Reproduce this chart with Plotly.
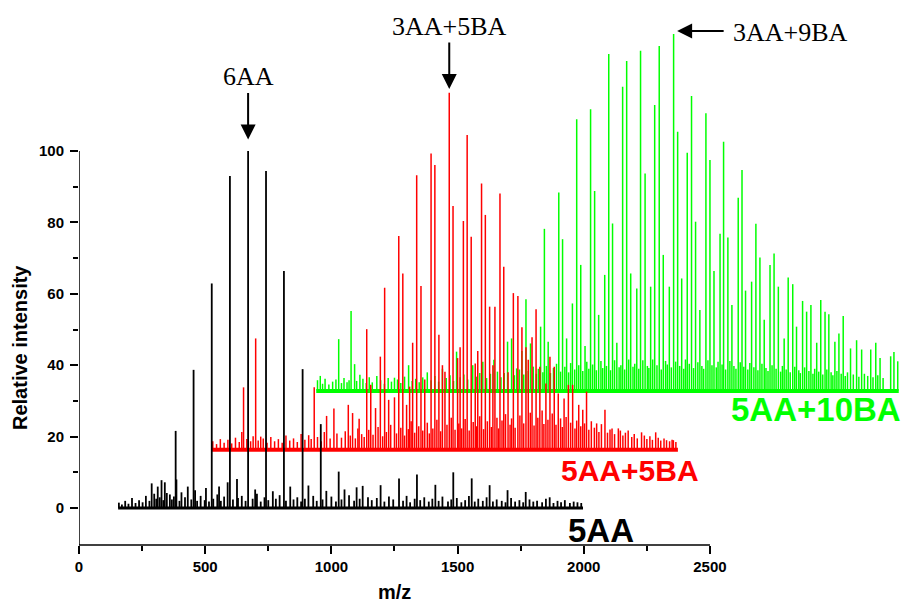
import plotly.graph_objects as go

# ---------------- data ----------------
# 5AA (black) : main peaks (m/z, intensity above baseline)
black_mz = [383, 454, 526, 598, 670, 741, 812, 886, 958, 1029, 1100, 1124, 1195, 1268,
            1339, 1412, 1483, 1556, 1627, 1698, 1770, 1865,
            288, 312, 327, 340, 360, 386, 431, 460, 503, 555, 589, 626, 698, 768, 837,
            909, 980, 1052]
black_int = [21.6, 38.7, 62.9, 93.0, 100.0, 94.4, 66.4, 38.9, 23.5, 10.2, 5.8, 6.2, 6.4, 8.3,
             9.4, 6.5, 10.0, 8.3, 6.4, 5.0, 4.5, 3.0,
             6.9, 6.0, 7.8, 7.2, 3.8, 8.0, 6.0, 5.0, 5.6, 6.0, 7.2, 8.1, 5.2, 4.7, 6.0,
             6.3, 4.8, 5.2]
black_noise_mz = [158, 170, 183, 196, 210, 224, 238, 252, 265, 279, 298, 306, 320, 334, 348,
                  368, 376, 398, 406, 420, 445, 468, 482, 498, 515, 532, 548, 562, 575, 610,
                  630, 645, 660, 688, 705, 720, 735, 750, 780, 795, 820, 850, 865, 880, 895,
                  928, 942, 965, 1000, 1018, 1040, 1070, 1090, 1112, 1145, 1160, 1180, 1210,
                  1228, 1245, 1284, 1298, 1312, 1330, 1352, 1368, 1386, 1400, 1425, 1440, 1462,
                  1475, 1497, 1515, 1530, 1545, 1568, 1582, 1600, 1615, 1640, 1655, 1675,
                  1690, 1712, 1728, 1745, 1760, 1785, 1800, 1815, 1835, 1850, 1880, 1896,
                  1910, 1925, 1945, 1960, 1975, 1990]
black_noise_int = [1.5, 1.0, 2.0, 1.2, 2.8, 1.4, 2.2, 1.6, 3.4, 2.0, 4.0, 2.6, 3.0, 2.2, 4.2,
                   2.4, 3.2, 2.0, 4.4, 3.0, 2.4, 2.0, 3.4, 2.2, 1.8, 2.6, 3.8, 2.0, 3.2, 2.4,
                   2.8, 3.4, 2.0, 2.6, 4.0, 1.8, 3.0, 2.2, 2.6, 3.6, 2.0, 2.4, 3.0, 1.8, 2.6,
                   3.4, 2.0, 2.4, 3.2, 1.8, 2.4, 3.6, 2.0, 2.6, 3.0, 2.2, 2.8, 1.8, 3.2, 2.4,
                   2.0, 3.4, 1.6, 2.6, 2.2, 3.0, 1.8, 2.6, 2.0, 3.2, 1.8, 2.4, 2.8, 1.6, 2.2,
                   3.4, 1.8, 2.6, 2.0, 3.0, 1.8, 2.4, 2.0, 1.6, 2.8, 1.8, 2.2, 1.6, 2.4, 1.8,
                   2.0, 1.6, 2.6, 1.4, 2.0, 1.6, 2.2, 1.4, 1.8, 1.6, 1.4]
black_span = [155, 1997]
black_offset = 0.0

# 5AA+5BA (red)
red_mz = [645, 652, 700, 720, 910, 932, 981, 1010, 1067, 1084, 1110, 1140, 1156, 1175, 1194,
          1211, 1227, 1250, 1267, 1283, 1298, 1310, 1322, 1338, 1355, 1370, 1395, 1410,
          1426, 1440, 1450, 1467, 1482, 1500, 1510, 1523, 1538, 1554, 1570, 1580, 1595,
          1610, 1627, 1640, 1648, 1668, 1683, 1700, 1721, 1739, 1755, 1771, 1780, 1795,
          1811, 1826, 1850, 1866, 1883, 1899, 1922, 1939, 1956, 1980, 1996, 2011, 2051,
          2084, 2104, 2137, 2176, 2229, 2285, 2328, 2355]
red_int = [5.0, 17.5, 31.2, 3.7, 4.1, 17.5, 9.5, 11.6, 12.6, 10.3, 8.7, 33.8, 18.2, 11.7, 26.1,
           45.4, 14.0, 14.7, 59.9, 49.4, 12.6, 17.7, 30.0, 76.9, 45.9, 19.7, 83.0, 79.8,
           32.2, 23.7, 21.9, 100.0, 68.3, 25.7, 28.7, 64.1, 88.2, 59.7, 24.2, 27.7, 74.6,
           65.8, 40.1, 23.7, 40.1, 71.8, 51.3, 21.7, 43.9, 43.1, 34.3, 28.7, 25.2, 31.5,
           39.4, 23.3, 18.6, 26.1, 23.3, 15.8, 14.4, 18.2, 18.2, 12.6, 11.2, 16.3, 7.4,
           11.2, 5.7, 6.0, 5.4, 4.9, 4.9, 2.7, 2.7]
red_noise_mz = [530, 545, 560, 575, 590, 605, 620, 635, 665, 680, 690, 710, 730, 745, 760,
                775, 790, 805, 820, 835, 850, 865, 880, 895, 920, 945, 960, 972, 995, 1022,
                1040, 1055, 1075, 1095, 1105, 1120, 1130, 1148, 1165, 1185, 1203, 1218,
                1235, 1258, 1275, 1290, 1305, 1316, 1330, 1346, 1362, 1380, 1388, 1402,
                1418, 1433, 1458, 1475, 1490, 1505, 1516, 1530, 1546, 1562, 1576, 1588,
                1603, 1618, 1634, 1656, 1662, 1676, 1690, 1708, 1714, 1728, 1747, 1762,
                1788, 1803, 1818, 1835, 1842, 1858, 1875, 1890, 1908, 1915, 1930, 1948,
                1965, 1972, 1988, 2003, 2020, 2030, 2042, 2060, 2070, 2094, 2112, 2122,
                2145, 2155, 2165, 2190, 2200, 2212, 2240, 2250, 2262, 2272, 2295, 2305,
                2318, 2340, 2350, 2365]
red_noise_int = [2.4, 1.6, 3.0, 2.0, 2.8, 1.8, 3.4, 2.2, 3.0, 2.4, 3.8, 2.6, 3.2, 2.0, 3.6,
                 2.4, 3.0, 2.0, 4.0, 2.6, 3.2, 2.2, 4.4, 2.8, 3.0, 3.6, 2.4, 5.0, 3.2, 4.6,
                 3.4, 5.2, 4.0, 3.2, 6.0, 4.4, 3.6, 5.6, 4.2, 6.4, 3.8, 5.0, 7.0, 4.6, 6.2,
                 4.0, 5.8, 8.0, 4.8, 6.6, 5.4, 7.6, 4.6, 6.0, 8.4, 5.2, 7.0, 9.0, 5.6, 7.4,
                 6.0, 8.6, 5.4, 7.8, 6.6, 9.4, 5.8, 8.0, 6.4, 9.0, 6.0, 8.2, 10.0, 7.0, 8.8,
                 6.2, 9.6, 7.4, 10.4, 6.8, 9.0, 11.0, 7.2, 8.4, 10.2, 7.0, 8.8, 6.4, 9.2,
                 7.6, 6.0, 8.2, 6.6, 7.4, 5.6, 8.0, 6.2, 5.0, 7.2, 4.8, 6.0, 4.4, 5.4, 4.0,
                 4.8, 3.6, 4.4, 3.2, 4.0, 3.0, 3.8, 2.8, 3.4, 2.6, 3.2, 2.4, 2.8, 2.2]
red_span = [527, 2373]
red_offset = 16.3

# 5AA+10BA (green)
green_mz = [956, 1029, 1078, 1092, 1113, 1180, 1250, 1306, 1380, 1440, 1496, 1560, 1600,
            1644, 1698, 1714, 1734, 1755, 1771, 1789, 1829, 1844, 1859, 1901, 1916, 1932,
            1955, 1972, 1988, 2005, 2027, 2043, 2059, 2083, 2099, 2114, 2131, 2154, 2170,
            2186, 2210, 2225, 2243, 2265, 2281, 2299, 2315, 2339, 2356, 2372, 2388, 2410,
            2427, 2443, 2460, 2484, 2500, 2516, 2540, 2554, 2571, 2587, 2612, 2627, 2641,
            2665, 2682, 2698, 2715, 2738, 2754, 2771, 2794, 2810, 2828, 2843, 2867, 2883,
            2900, 2923, 2939, 2956, 2971, 2995, 3011, 3028, 3057, 3081, 3101, 3137, 3157,
            3174, 3216, 3229, 3244]
green_int = [4.2, 14.5, 22.4, 7.5, 4.5, 4.2, 3.7, 7.2, 5.2, 6.2, 11.0, 7.2, 8.2, 8.7, 13.8,
             14.7, 6.3, 11.2, 25.7, 13.3, 18.0, 45.4, 13.8, 55.6, 42.5, 14.7, 24.5, 76.1,
             35.3, 12.6, 78.9, 56.0, 21.3, 32.5, 94.4, 46.9, 13.5, 85.2, 92.4, 32.9, 28.7,
             95.3, 60.9, 29.2, 80.1, 96.6, 38.1, 29.2, 100.0, 72.6, 31.5, 66.7, 82.6, 47.4,
             22.7, 77.8, 64.7, 33.6, 44.0, 69.8, 43.0, 24.1, 54.1, 61.9, 28.1, 30.6, 46.8,
             37.4, 19.9, 35.3, 38.5, 29.2, 14.7, 31.8, 29.9, 18.0, 25.2, 22.2, 24.1, 13.5,
             25.5, 22.2, 21.5, 13.8, 16.1, 21.0, 11.9, 14.2, 11.6, 11.6, 13.5, 9.2, 9.7,
             10.9, 8.3]
green_noise_mz = [945, 965, 975, 990, 1005, 1018, 1040, 1050, 1062, 1070, 1100, 1125, 1138,
                  1150, 1162, 1195, 1210, 1225, 1238, 1262, 1275, 1290, 1320, 1334, 1348,
                  1362, 1395, 1410, 1425, 1455, 1470, 1484, 1510, 1525, 1540, 1575, 1588,
                  1615, 1630, 1658, 1672, 1685, 1725, 1745, 1762, 1780, 1800, 1812, 1820,
                  1838, 1852, 1868, 1880, 1892, 1908, 1925, 1940, 1948, 1964, 1980, 1996,
                  2012, 2020, 2035, 2050, 2068, 2075, 2090, 2106, 2122, 2140, 2147, 2162,
                  2178, 2195, 2202, 2218, 2234, 2252, 2258, 2273, 2290, 2307, 2324, 2331,
                  2347, 2364, 2380, 2396, 2403, 2418, 2435, 2452, 2468, 2475, 2492, 2508,
                  2525, 2532, 2548, 2562, 2579, 2595, 2603, 2620, 2634, 2650, 2658, 2674,
                  2690, 2706, 2722, 2730, 2746, 2762, 2780, 2787, 2802, 2818, 2836, 2852,
                  2858, 2875, 2892, 2908, 2915, 2931, 2947, 2963, 2980, 2987, 3003, 3020,
                  3036, 3045, 3068, 3090, 3112, 3125, 3146, 3165, 3186, 3200, 3208, 3236]
green_noise_int = [3.0, 2.0, 3.4, 1.8, 2.6, 3.2, 2.2, 3.6, 2.4, 3.0, 2.8, 3.4, 2.2, 3.8, 2.4,
                   3.0, 2.0, 3.6, 2.6, 3.2, 2.2, 4.0, 2.8, 3.4, 2.4, 3.8, 3.0, 4.2, 2.6, 3.6,
                   4.4, 2.8, 3.8, 4.6, 3.2, 4.0, 5.0, 3.6, 4.8, 5.4, 3.8, 5.0, 4.4, 6.0, 4.6,
                   5.6, 6.8, 4.8, 6.2, 5.2, 7.0, 5.0, 6.4, 7.6, 5.4, 6.8, 5.2, 7.8, 6.0, 7.2,
                   5.6, 8.2, 6.2, 7.4, 5.8, 8.4, 6.4, 7.0, 5.8, 8.6, 6.6, 7.2, 6.0, 8.8, 6.8,
                   7.6, 6.2, 8.6, 7.0, 6.4, 8.8, 7.2, 6.0, 8.4, 7.4, 6.6, 8.2, 7.0, 6.2, 8.8,
                   7.6, 6.4, 8.0, 7.0, 6.2, 8.6, 7.2, 6.6, 8.2, 7.4, 6.0, 8.4, 7.0, 6.2, 8.0,
                   6.8, 6.0, 7.8, 6.6, 5.8, 7.6, 6.4, 5.6, 7.2, 6.2, 5.4, 7.0, 6.0, 5.2, 6.8,
                   5.8, 5.0, 6.6, 5.6, 4.8, 6.2, 5.4, 4.6, 6.0, 5.2, 4.4, 5.6, 4.8, 4.2, 5.2,
                   4.6, 4.0, 4.8, 4.2, 3.8, 4.4, 3.6]
green_span = [940, 3248]
green_offset = 32.8

x_ticks = [0, 500, 1000, 1500, 2000, 2500]
x_minor = [250, 750, 1250, 1750, 2250]
y_ticks = [0, 20, 40, 60, 80, 100]
y_minor = [10, 30, 50, 70, 90]

# ---------------- figure ----------------
def sticks(mz_lists, int_lists, offset):
    xs, ys = [], []
    for mzs, ints in zip(mz_lists, int_lists):
        for m, h in zip(mzs, ints):
            xs += [m, m, None]
            ys += [offset, offset + h, None]
    return xs, ys

fig = go.Figure()
series = [
    ("5AA+10BA", "#00ff00", green_mz, green_int, green_noise_mz, green_noise_int, green_span, green_offset, 1.5, 4),
    ("5AA+5BA", "#ff0000", red_mz, red_int, red_noise_mz, red_noise_int, red_span, red_offset, 1.5, 4),
    ("5AA", "#000000", black_mz, black_int, black_noise_mz, black_noise_int, black_span, black_offset, 1.8, 3),
]
for name, col, mz, it, nmz, nit, span, off, lw, bw in series:
    fig.add_trace(go.Scatter(x=[span[0], span[1]], y=[off, off], mode="lines",
                             line=dict(color=col, width=bw), showlegend=False, hoverinfo="skip"))
    xs, ys = sticks([nmz, mz], [nit, it], off)
    fig.add_trace(go.Scatter(x=xs, y=ys, mode="lines", line=dict(color=col, width=lw),
                             showlegend=False, name=name))

XMAX = 3253
YMIN, YMAX = -10.36, 142.3

tickfont = dict(family="Liberation Sans, Arial", size=15, color="black", weight="bold")
fig.update_layout(
    width=903, height=602,
    margin=dict(l=79, r=3, t=0, b=57),
    paper_bgcolor="white", plot_bgcolor="white",
    xaxis=dict(range=[0, XMAX], showgrid=False, zeroline=False, showline=False,
               tickmode="array", tickvals=x_ticks, ticks="outside", ticklen=8, tickwidth=1.5,
               tickcolor="black", tickfont=tickfont,
               minor=dict(tickvals=x_minor, ticks="outside", ticklen=5, tickwidth=1.5, tickcolor="black")),
    yaxis=dict(range=[YMIN, YMAX], showgrid=False, zeroline=False, showline=False,
               tickmode="array", tickvals=y_ticks, ticks="outside", ticklen=8, tickwidth=1.5,
               tickcolor="black", tickfont=tickfont, ticklabelstandoff=3,
               minor=dict(tickvals=y_minor, ticks="outside", ticklen=5, tickwidth=1.5, tickcolor="black")),
    font=dict(family="Liberation Sans, Arial", color="black"),
)

# axis lines (x axis stops at 2500, y axis stops at 100)
fig.add_shape(type="line", xref="x", yref="paper", x0=-8, x1=2500, y0=0, y1=0,
              line=dict(color="black", width=1.5))
fig.add_shape(type="line", xref="x", yref="y", x0=0, x1=0, y0=YMIN, y1=100,
              line=dict(color="black", width=1.5))

# axis titles (centred on the drawn axis extent)
fig.add_annotation(text="<b>m/z</b>", xref="x", yref="paper", x=1250,
                   y=(545 - 592) / 545, showarrow=False, yanchor="middle", xanchor="center",
                   font=dict(size=20, family="Liberation Sans, Arial", color="black"))
fig.add_annotation(text="<b>Relative intensity</b>", xref="paper", yref="y",
                   x=(20 - 79) / 821, y=(YMIN + 100) / 2, showarrow=False, textangle=-90,
                   xanchor="center", yanchor="middle",
                   font=dict(size=20, family="Liberation Sans, Arial", color="black"))

# series labels
labels = [("5AA", "#000000", 2068, -6.2, 33), ("5AA+5BA", "#ff0000", 2183, 10.6, 30),
          ("5AA+10BA", "#00ff00", 2920, 27.5, 33)]
for txt, col, lx, ly, fs in labels:
    fig.add_annotation(text="<b>" + txt + "</b>", x=lx, y=ly, showarrow=False,
                       font=dict(size=fs, family="Liberation Sans, Arial", color=col))

# peak markers
serif = dict(family="Liberation Serif, Times New Roman", size=26, color="black")
fig.add_annotation(text="6AA", x=670, y=121, showarrow=False, font=serif)
fig.add_annotation(text="", x=670, y=103.2, ax=0, ay=-48, showarrow=True,
                   arrowhead=2, arrowsize=1.5, arrowwidth=2, arrowcolor="black", standoff=0)
fig.add_annotation(text="3AA+5BA", x=1467, y=134.9, showarrow=False, font=serif)
fig.add_annotation(text="", x=1467, y=117.4, ax=0, ay=-48, showarrow=True,
                   arrowhead=2, arrowsize=1.5, arrowwidth=2, arrowcolor="black", standoff=0)
fig.add_annotation(text="3AA+9BA", x=2818, y=133.2, showarrow=False, font=serif)
fig.add_annotation(text="", x=2370, y=133.6, ax=48, ay=0, showarrow=True,
                   arrowhead=2, arrowsize=1.5, arrowwidth=2, arrowcolor="black", standoff=0)

fig.write_html("out.html")
